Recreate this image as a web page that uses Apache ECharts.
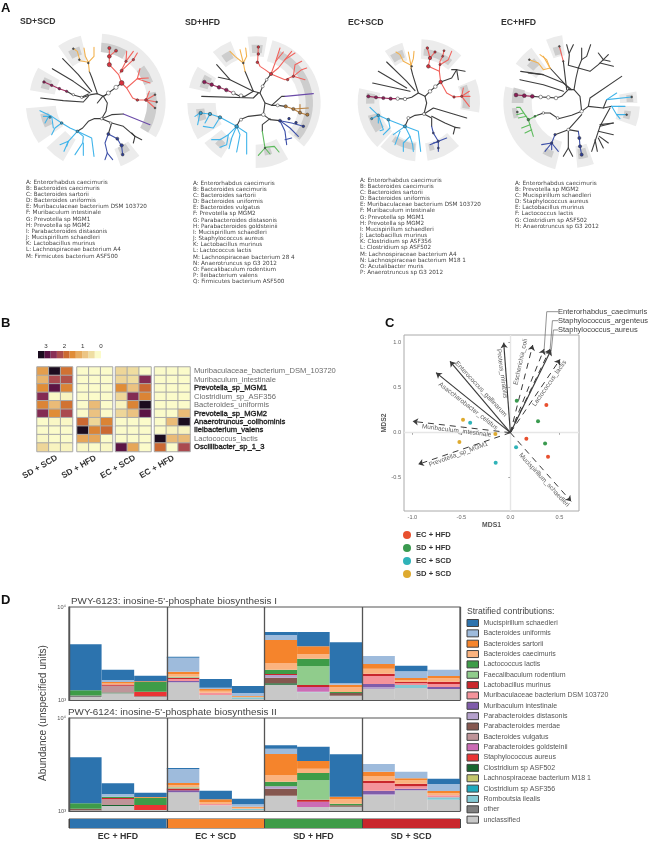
<!DOCTYPE html>
<html><head><meta charset="utf-8">
<style>html,body{margin:0;padding:0;background:#fff}#c{width:649px;height:841px}</style>
<script src="https://cdn.jsdelivr.net/npm/echarts@6/dist/echarts.min.js"></script>
</head><body><div id="c"></div>
<script>
// ---------- Panel A: species lists ----------
const LIST_SD_SCD=["A: Enterorhabdus caecimuris","B: Bacteroides caecimuris","C: Bacteroides sartorii","D: Bacteroides uniformis","E: Muribaculaceae bacterium DSM 103720","F: Muribaculum intestinale","G: Prevotella sp MGM1","H: Prevotella sp MGM2","I: Parabacteroides distasonis","J: Mucispirillum schaedleri","K: Lactobacillus murinus","L: Lachnospiraceae bacterium A4","M: Firmicutes bacterium ASF500"];
const LIST_SD_HFD=["A: Enterorhabdus caecimuris","B: Bacteroides caecimuris","C: Bacteroides sartorii","D: Bacteroides uniformis","E: Bacteroides vulgatus","F: Prevotella sp MGM2","G: Parabacteroides distasonis","H: Parabacteroides goldsteinii","I: Mucispirillum schaedleri","J: Staphylococcus aureus","K: Lactobacillus murinus","L: Lactococcus lactis","M: Lachnospiraceae bacterium 28 4","N: Anaerotruncus sp G3 2012","O: Faecalibaculum rodentium","P: Ileibacterium valens","Q: Firmicutes bacterium ASF500"];
const LIST_EC_SCD=["A: Enterorhabdus caecimuris","B: Bacteroides caecimuris","C: Bacteroides sartorii","D: Bacteroides uniformis","E: Muribaculaceae bacterium DSM 103720","F: Muribaculum intestinale","G: Prevotella sp MGM1","H: Prevotella sp MGM2","I: Mucispirillum schaedleri","J: Lactobacillus murinus","K: Clostridium sp ASF356","L: Clostridium sp ASF502","M: Lachnospiraceae bacterium A4","N: Lachnospiraceae bacterium M18 1","O: Acutalibacter muris","P: Anaerotruncus sp G3 2012"];
const LIST_EC_HFD=["A: Enterorhabdus caecimuris","B: Prevotella sp MGM2","C: Mucispirillum schaedleri","D: Staphylococcus aureus","E: Lactobacillus murinus","F: Lactococcus lactis","G: Clostridium sp ASF502","H: Anaerotruncus sp G3 2012"];

// ---------- Panel A: cladograms, in tree-local units ----------
const CLADE_COLORS={K:'#3d3d3d',O:'#f3b24f',R:'#f2625c',P:'#a32f60',B:'#40b4ea',N:'#3d50a8',V:'#6a4aa8',W:'#b9803e',G:'#5dbb5d'};
const NODE_COLORS={w:'#ffffff',r:'#d8323e',p:'#8e1b57',b:'#2f9fd0',n:'#2f3f96',o:'#a8853a',t:'#b07a3c',g:'#3f8f4a',k:'#555555'};

const SD_SCD_LIGHT=[[232,222,150,205,-31,86],[232,222,130,205,104,125],[232,222,130,205,150,170],[232,222,125,215,185,215],[232,222,130,205,222,240],[232,222,150,205,-70,-52]];
const SD_SCD_DARK=[[232,222,150,178,60,86],[232,222,150,178,20,38],[232,222,150,178,-31,10],[232,222,150,175,108,120],[232,222,150,175,155,166],[232,222,150,175,192,206],[232,222,150,175,-66,-56]];
const SD_SCD_BRANCHES=[
['K',262,198,250,205,262,225,258,250,245,272],['K',250,205,232,197,212,200,186,209],['K',248,205,232,225],['K',250,205,265,195,288,178,305,165],
['K',232,197,216,150,208,130],['O',208,130,205,103],['O',205,103,180,98,172,70,160,62],['O',205,103,222,85,222,58],['O',205,103,196,85,192,60],
['K',215,190,175,140,128,92],['K',210,195,160,160,97,122],['K',205,198,185,208,158,200,140,190],['P',140,190,118,182,95,172,72,162],['K',205,205,190,222,130,218,62,210],
['K',245,272,222,272,205,280,188,300,172,310],['B',172,310,150,300,125,285,95,265,60,248],['B',95,265,100,300],['B',88,262,75,285],['B',90,265,70,265],['B',125,285,105,300,95,320],
['B',172,310,145,340,120,350],['B',145,340,132,370],['B',145,340,140,355],['B',172,310,190,325,188,345,165,380],['B',190,345,190,382],['B',172,310,215,330,222,385],
['K',245,272,275,260,310,258],['V',310,258,390,290],['K',245,272,275,285,265,318],['N',265,318,255,345,262,375],['N',262,375,255,395],['N',262,375,278,395],['N',265,318,292,332,305,355,308,380],
['K',275,285,310,295,345,325,340,345],['K',345,325,365,335],['K',345,325,335,315],
['R',305,165,320,180,338,210,352,216,378,216,405,200],['R',378,216,410,222],['R',378,216,405,240],['R',378,216,388,190],['R',320,180,352,152,385,150],['R',352,152,360,122],['R',352,152,390,165],
['R',305,165,296,140,268,110,268,60],['R',268,85,288,68],['R',300,135,318,100,320,70],['R',305,128,340,95,352,75],['R',318,100,340,70]];
const SD_SCD_NODES=[[265,195,4,'w'],[288,178,4.2,'w'],[160,200,2.4,'w'],[185,208,2.4,'w'],[245,272,2.6,'w'],[272,285,2.4,'w'],
[305,165,4.8,'r'],[268,110,4.2,'r'],[268,85,3.8,'r'],[268,60,3.2,'r'],[288,68,3,'r'],[305,128,3,'r'],[318,100,2.4,'r'],[340,95,2.4,'r'],[352,216,2.6,'r'],[378,216,2.8,'r'],[405,200,1.8,'k'],[410,222,1.8,'k'],[405,240,1.8,'k'],
[140,190,2.4,'p'],[118,182,2.6,'p'],[95,172,2.6,'p'],[72,162,2.6,'p'],[172,310,2.6,'b'],[125,285,2.6,'b'],[90,268,2.2,'b'],[265,318,3,'n'],[292,332,3,'n'],[305,352,3.4,'n'],[308,380,2.8,'n'],[205,105,1.8,'k'],[178,95,1.8,'k'],[160,62,1.8,'k']];

const SD_HFD_LIGHT=[[212,225,130,195,-42,75],[212,225,140,200,80,97],[212,225,140,200,112,130],[212,225,140,205,148,167],[212,225,120,205,180,212],[212,225,130,195,218,238],[212,225,125,195,-90,-60]];
const SD_HFD_DARK=[[212,225,150,172,-40,65],[212,225,150,175,83,94],[212,225,150,175,116,126],[212,225,150,175,151,164],[212,225,155,180,186,198],[212,225,150,172,225,233],[212,225,140,160,-80,-72]];
const SD_HFD_BRANCHES=[
['K',235,260,240,225,225,195,205,190,180,205,165,205,145,195],['P',145,195,124,186,102,178,80,170,58,162],['K',50,205,205,210,220,195],
['K',205,190,135,155,95,110],['K',135,155,100,148],['K',205,190,180,130],['O',180,130,175,105,150,85,135,70],['O',175,105,165,65],['O',175,105,185,85,182,60],
['K',225,195,233,175,245,155,258,138],['R',258,138,240,125,225,115,218,100,220,55],['R',258,138,272,100,280,90,295,72],['R',272,100,285,60],['R',258,138,280,120,300,95,330,75],['R',300,95,320,70],['R',258,138,300,155,325,145,360,155],['R',325,145,330,110,350,100],['R',325,145,350,125,365,120],
['K',240,225,260,232,290,205,300,205],['V',300,205,385,197],['K',260,232,280,232,300,235],['W',300,235,325,243,345,254,370,262],['W',325,243,370,240],['W',345,254,345,230],
['K',235,260,255,275,285,278],['N',285,278,320,285,355,295],['N',285,278,315,300,340,325],['N',285,278,300,310,305,350],['N',300,335,320,330],['K',255,272,232,290,232,310],['G',232,310,240,360,220,382],['G',240,360,255,378],['G',240,358,268,355,282,372],
['K',235,260,190,265,165,275,155,295],['B',155,295,105,268,75,258,45,255,30,265],['B',75,258,60,285],['B',105,268,85,300,55,295],['B',45,255,38,290],['B',155,295,130,320,105,335,80,335],['B',130,320,125,350,105,358],['B',155,295,140,330,132,362],['B',155,295,185,315,185,378],['B',155,295,165,320,155,372]];
const SD_HFD_NODES=[[168,203,3.6,'w'],[145,195,3.6,'w'],[233,175,3,'w'],[245,155,2.6,'w'],[235,260,3.6,'w'],[278,232,3,'w'],[168,275,3,'w'],
[258,138,3.2,'r'],[217,103,2.6,'r'],[220,78,2.6,'r'],[220,57,2.6,'r'],[325,145,2.4,'r'],[308,155,2.4,'r'],[124,186,3.6,'p'],[102,178,3.6,'p'],[80,170,3.6,'p'],[58,162,3.6,'p'],
[302,235,3.2,'t'],[325,243,3.2,'t'],[345,254,3.2,'t'],[367,260,3.2,'t'],[285,278,3,'n'],[312,272,2.6,'n'],[333,284,2.6,'n'],[355,295,2.6,'n'],[155,295,3.6,'b'],[105,268,3.4,'b'],[75,258,3.4,'b'],[47,255,3.4,'b'],[175,105,1.8,'k'],[240,360,1.6,'k']];

const EC_SCD_LIGHT=[[208,222,130,188,48,88],[208,222,125,182,-10,22],[208,222,130,185,106,124],[208,222,120,185,167,227],[208,222,120,178,229,266],[208,222,125,178,-82,-48]];
const EC_SCD_DARK=[[208,222,140,160,52,85],[208,222,130,152,-8,20],[208,222,140,165,108,122],[208,222,135,160,170,182],[208,222,130,160,195,215],[208,222,125,145,235,265],[208,222,130,150,-78,-72]];
const EC_SCD_BRANCHES=[
['K',222,258,230,225,225,205,205,195,185,208,165,213,143,212],['P',143,212,122,212,100,210,78,208,55,205],['K',225,205,240,190,256,176,272,162],
['K',205,195,188,140,183,120],['O',183,120,183,112,160,100,150,80,138,72],['O',183,112,175,72],['O',183,112,190,92,192,70],
['K',195,188,170,160,110,102],['K',170,180,85,130],['K',180,190,68,165],
['K',222,258,195,262,175,272,165,295],['B',165,295,140,285,115,275,85,262,60,238],['B',85,262,65,272],['B',85,262,85,285],['B',85,262,100,305,90,308],['B',115,275,120,300,100,320],
['B',165,295,130,320],['B',165,295,205,310,212,370],['B',165,295,180,325,188,350,190,370],['B',180,325,160,345,160,370],['B',150,310,135,350],
['K',222,258,250,240,350,270],['K',222,258,245,270,245,295],['N',245,295,250,315,265,340,265,370],['N',265,340,240,350],['N',265,340,290,330],['N',265,342,250,345],
['K',245,265,285,285,315,298,310,318],['K',315,298,330,300],
['R',272,162,290,195,312,207,335,205,358,190],['R',335,205,360,205],['R',335,205,358,235],['R',335,205,340,180],
['R',272,162,268,130,235,115,240,90,232,60],['R',240,90,255,72],['R',268,130,270,100,278,85,282,68],['R',270,110,295,95,305,70],
['K',272,162,305,150,320,125],['K',320,125,345,130],['K',320,125,325,155],['K',320,125,305,125]];
const EC_SCD_NODES=[[240,190,3.6,'w'],[256,176,3.6,'w'],[143,212,3.4,'w'],[165,213,3.4,'w'],[222,258,3,'w'],[175,270,3,'w'],
[272,162,3.6,'r'],[235,115,3.6,'r'],[240,90,3.4,'r'],[232,60,2.6,'r'],[255,72,2.4,'r'],[312,207,2.4,'r'],[335,205,2.2,'r'],[278,85,2,'r'],[282,68,2,'r'],[270,110,2.2,'r'],[122,212,3.2,'p'],[100,210,3.2,'p'],[78,208,3.2,'p'],[55,205,3.2,'p'],
[165,295,3.2,'b'],[115,275,2.8,'b'],[85,262,2.8,'b'],[65,272,2.2,'b'],[250,315,2,'n'],[265,340,2,'n'],[265,360,2,'n'],[185,115,1.8,'k']];

const EC_HFD_LIGHT=[[215,225,145,205,98,112],[215,225,130,205,126,145],[215,225,120,205,166,256],[215,225,145,197,0,10],[215,225,140,205,-20,-3],[215,225,130,195,-85,-70]];
const EC_HFD_DARK=[[215,225,150,175,101,109],[215,225,150,175,130,140],[215,225,145,180,165,180],[215,225,165,180,185,195],[215,225,155,175,240,250],[215,225,165,185,1,8],[215,225,160,180,-16,-8],[215,225,140,170,-83,-73]];
const EC_HFD_BRANCHES=[
['K',245,250,240,205,222,185,205,185,185,205,168,210,145,208,122,207],['K',122,207,97,205],['P',97,205,73,203,48,201],
['K',222,185,228,150,235,120],['K',235,120,245,95,260,85,272,50],['K',245,95,245,60],['K',235,120,205,112,208,80,200,50],['K',208,75,220,50],['K',235,120,270,130,295,110,310,95,330,100],['K',310,95,295,75],['K',310,95,325,80],['K',300,105,340,115],
['K',215,185,190,165,130,140,62,130],['K',130,140,85,135],['K',190,190,130,170,60,155],['K',210,185,150,120],['O',150,120,130,125,115,105,88,95],['O',150,120,130,85],['O',150,120,140,95,120,80],
['K',200,185,190,100],['R',190,100,178,55],
['K',245,250,265,235,270,210,365,145],['K',265,235,310,240,335,235],['K',310,240,320,215],['B',320,215,395,207],['B',320,215,350,195],['B',335,235,375,235],['B',335,235,350,260,380,260],['B',350,260,360,272],
['K',330,240,300,295,290,325,275,370],['K',300,295,340,285],['K',295,310,340,320],['K',300,290,340,285],['K',285,335,292,370],['K',295,330,310,360],['K',298,325,325,345],
['K',245,250,215,262,175,272,150,255,130,255,112,262],['G',112,262,85,275,60,238,50,238],['G',85,275,100,325],['G',80,265,55,270],['G',90,290,65,300],['G',95,305,75,315],['G',70,255,50,260],
['K',245,260,205,305,165,320],['N',165,320,155,345,125,350],['N',155,345,135,370],['N',155,345,155,365],['N',155,345,175,370],['K',205,305,205,360],['K',205,360,190,385],['K',205,360,218,385],['K',205,305,235,310],['N',235,310,238,330,240,355,245,380]];
const EC_HFD_NODES=[[168,210,3.6,'w'],[145,208,3.6,'w'],[122,207,3.6,'w'],[245,250,3.4,'w'],[173,270,2.8,'w'],[130,255,2.6,'w'],[205,305,3,'w'],
[97,205,3.8,'p'],[73,203,3.8,'p'],[48,201,3.8,'p'],[85,275,2.6,'g'],[105,265,2,'g'],[52,252,2,'k'],[165,320,2.4,'n'],[155,345,2.4,'n'],[238,330,3.2,'n'],[240,355,3.2,'n'],[245,380,3.2,'n'],[178,55,1.8,'k'],[190,100,1.6,'k'],[88,95,1.8,'k'],[395,207,1.8,'k'],[380,260,1.8,'k']];

const TREE_LAYOUTS=[
 {box:[20,28,150,145],light:SD_SCD_LIGHT,dark:SD_SCD_DARK,branches:SD_SCD_BRANCHES,nodes:SD_SCD_NODES},
 {box:[185,28,150,145],light:SD_HFD_LIGHT,dark:SD_HFD_DARK,branches:SD_HFD_BRANCHES,nodes:SD_HFD_NODES},
 {box:[350,28,150,145],light:EC_SCD_LIGHT,dark:EC_SCD_DARK,branches:EC_SCD_BRANCHES,nodes:EC_SCD_NODES},
 {box:[500,28,149,145],light:EC_HFD_LIGHT,dark:EC_HFD_DARK,branches:EC_HFD_BRANCHES,nodes:EC_HFD_NODES}];

// ---------- Panel B ----------
const HEAT_ROWS=["Muribaculaceae_bacterium_DSM_103720","Muribaculum_intestinale","Prevotella_sp_MGM1","Clostridium_sp_ASF356","Bacteroides_uniformis","Prevotella_sp_MGM2","Anaerotruncus_colihominis","Ileibacterium_valens","Lactococcus_lactis","Oscillibacter_sp_1_3"];
const HEAT_BOLD=["Prevotella_sp_MGM1","Prevotella_sp_MGM2","Anaerotruncus_colihominis","Ileibacterium_valens","Oscillibacter_sp_1_3"];
const HEAT_COLORS=['#fbfbca','#efdea2','#ecc585','#e7ac60','#e08c36','#cc6a32','#ad4d4e','#8a2f56','#591243','#1b0c1f'];
const HEAT_GROUP_NAMES=["SD + SCD","SD + HFD","EC + SCD","EC + HFD"];
const HEAT_SD_SCD=[[1.3,3.4,1.8],[1.0,2.3,2.2],[1.5,3.0,1.6],[2.7,0.05,0.1],[1.6,0.9,1.8],[2.7,1.5,2.3],[0,0.05,0.05],[0,0,0],[0.05,0,0],[0.5,0.1,0.1]];
const HEAT_SD_HFD=[[0,0,0],[0,0,0],[0,0,0],[0,0,0],[0,0.9,0],[0,0.8,0],[1.9,0.5,1.6],[3.4,1.6,1.9],[1.2,1.2,0],[0.05,0,0.05]];
const HEAT_EC_SCD=[[0.5,0.4,0],[0.5,0.4,2.7],[1.5,0.8,1.9],[0.5,2.7,1.6],[0.1,1.6,3.4],[0.5,0.8,3.0],[0,0,0],[0,0,0],[0,0,0],[3.0,1.2,0]];
const HEAT_EC_HFD=[[0,0,0],[0,0,0],[0,0,0],[0,0,0],[0,0,0],[0,0,0.9],[0,0.9,3.4],[0,0.1,0.1],[3.4,0.9,0.9],[1.9,0,2.3]];
const HEAT_BLOCKS=[HEAT_SD_SCD,HEAT_SD_HFD,HEAT_EC_SCD,HEAT_EC_HFD];
const HEAT_LEFTS=[37,77,115.5,154.5];
const COLORBAR_STEP=[0.344];

// ---------- Panel C ----------
const EC_HFD_PTS=[[0.367,0.307],[0.163,-0.067],[0.384,-0.267]];
const SD_HFD_PTS=[[0.065,0.356],[0.282,0.126],[0.354,-0.119]];
const EC_SCD_PTS=[[-0.41,0.111],[0.058,-0.163],[-0.15,-0.333]];
const SD_SCD_PTS=[[-0.483,0.144],[-0.52,-0.104],[-0.153,-0.015]];
const MDS_GROUPS=[["EC + HFD",EC_HFD_PTS,'#e8502f'],["SD + HFD",SD_HFD_PTS,'#3a9a4f'],["EC + SCD",EC_SCD_PTS,'#2fb3b8'],["SD + SCD",SD_SCD_PTS,'#deaa2f']];
const ARROWS_SOLID=[[-0.068,1.0],[-0.758,0.667],[-0.616,0.793],[0.415,0.919]];
const ARROWS_DASHED=[[-0.997,0.126],[-0.94,-0.352],[0.62,-0.763],[0.228,0.974],[0.507,0.815],[0.344,0.93],[0.405,0.93]];
const ARROW_LABELS=[["Proteus_mirabilis",-0.085,0.656,-82],["Escherichia_coli",0.105,0.785,78],["Lactococcus_lactis",0.398,0.548,55],["Enterococcus_gallinarum",-0.30,0.485,-47],["Asaccharobacter_celatus",-0.43,0.296,-38],["Muribaculum_intestinale",-0.548,0.022,-7],["Prevotella_sp_MGM1",-0.53,-0.24,20],["Mucispirillum_schaedleri",0.344,-0.526,-47]];
const CALLOUT_LINES=[[[0.49,1.344],[0.371,1.344],[0.344,0.919]],[[0.49,1.244],[0.429,1.244],[0.405,0.919]],[[0.49,1.141],[0.439,1.141],[0.418,0.919]]];
const CALLOUT_LABELS=[["Enterorhabdus_caecimuris",312],["Staphylococcus_argenteus",321],["Staphylococcus_aureus",330]];

// ---------- Panel D ----------
const SPECIES=["Mucispirillum schaedleri","Bacteroides uniformis","Bacteroides sartorii","Bacteroides caecimuris","Lactococcus lactis","Faecalibaculum rodentium","Lactobacillus murinus","Muribaculaceae bacterium DSM 103720","Muribaculum intestinale","Parabacteroides distasonis","Parabacteroides merdae","Bacteroides vulgatus","Parabacteroides goldsteinii","Staphylococcus aureus","Clostridium sp ASF502","Lachnospiraceae bacterium M18 1","Clostridium sp ASF356","Romboutsia ilealis","other","unclassified"];
const SPECIES_COLORS=['#2c73ae','#9ebbdc','#f5842c','#fbb37f','#3e9c48','#90cc8c','#c9262c','#f4939b','#7f5caa','#b5a1cc','#85574f','#bf9499','#cc6cb5','#ea3434','#17652f','#c4c66c','#1fa9bd','#84c9d4','#7f7f7f','#c8c8c8'];
const [muc,unif,sart,caec,lact,faec,lmur,dsm,mint,dist,merd,vulg,gold,staph,a502,m181,a356,romb,othr,uncl]=SPECIES.map((_,i)=>i);
// each sample: [species, log10 abundance at the top of its band], bottom to top
const PWY6123=[
[[uncl,3.032],[othr,3.048],[lact,3.104],[muc,3.599]],
[[uncl,3.072],[a502,3.081],[vulg,3.154],[lmur,3.167],[caec,3.177],[sart,3.194],[unif,3.215],[muc,3.326]],
[[uncl,3.032],[othr,3.040],[staph,3.089],[lact,3.194],[sart,3.201],[muc,3.261]],
[[uncl,3.190],[faec,3.201],[mint,3.215],[dsm,3.237],[lmur,3.250],[caec,3.280],[sart,3.304],[unif,3.455],[muc,3.466]],
[[uncl,3.054],[dsm,3.078],[caec,3.100],[sart,3.118],[unif,3.132],[muc,3.226]],
[[uncl,3.011],[romb,3.029],[caec,3.035],[sart,3.043],[unif,3.075],[muc,3.151]],
[[uncl,3.164],[a502,3.180],[merd,3.240],[dist,3.269],[lmur,3.280],[lact,3.326],[caec,3.398],[sart,3.645],[unif,3.699],[muc,3.731]],
[[uncl,3.083],[romb,3.089],[gold,3.140],[lmur,3.161],[faec,3.366],[lact,3.444],[caec,3.491],[sart,3.577],[muc,3.731]],
[[uncl,3.046],[merd,3.075],[lact,3.086],[caec,3.137],[sart,3.164],[unif,3.180],[muc,3.620]],
[[uncl,3.118],[dist,3.137],[mint,3.172],[dsm,3.258],[lmur,3.283],[caec,3.336],[sart,3.387],[unif,3.473]],
[[uncl,3.129],[romb,3.161],[dsm,3.180],[lmur,3.194],[caec,3.215],[sart,3.237],[unif,3.309],[muc,3.369]],
[[uncl,3.118],[mint,3.140],[dsm,3.172],[lmur,3.197],[caec,3.233],[sart,3.258],[unif,3.326]]];
const PWY6124=[
[[uncl,3.008],[merd,3.025],[lact,3.083],[muc,3.577]],
[[uncl,3.054],[a502,3.065],[vulg,3.126],[lmur,3.140],[lact,3.154],[unif,3.183],[muc,3.298]],
[[uncl,3.011],[staph,3.065],[lact,3.143],[sart,3.151],[muc,3.197]],
[[uncl,3.201],[faec,3.215],[mint,3.237],[lmur,3.255],[caec,3.280],[sart,3.301],[unif,3.452],[muc,3.462]],
[[uncl,3.061],[dsm,3.075],[caec,3.097],[sart,3.126],[muc,3.218]],
[[uncl,3.011],[romb,3.025],[caec,3.035],[sart,3.046],[unif,3.072],[muc,3.132]],
[[uncl,3.164],[merd,3.240],[dist,3.266],[lact,3.315],[caec,3.387],[sart,3.613],[unif,3.670],[muc,3.706]],
[[uncl,3.043],[gold,3.100],[lmur,3.121],[faec,3.330],[lact,3.409],[caec,3.455],[sart,3.538],[muc,3.691]],
[[uncl,3.046],[merd,3.061],[lact,3.078],[caec,3.129],[sart,3.154],[muc,3.610]],
[[uncl,3.169],[dist,3.180],[mint,3.218],[dsm,3.301],[lmur,3.326],[caec,3.376],[sart,3.422],[unif,3.505]],
[[uncl,3.223],[mint,3.240],[dsm,3.266],[lmur,3.293],[caec,3.330],[sart,3.352],[unif,3.422]],
[[uncl,3.121],[romb,3.147],[dsm,3.169],[caec,3.190],[sart,3.215],[unif,3.290],[muc,3.347]]];
const STRIP_GROUPS=["EC + HFD","EC + SCD","SD + HFD","SD + SCD"];
const STRIP_COLORS=['#2c73ae','#f5842c','#3e9c48','#c9262c'];
const STRIP_VALUES=[1,1,1,1];

// ---------- build ----------
const grids=[],xAxes=[],yAxes=[],series=[],graphics=[];
const SANS='"Liberation Sans",Arial,sans-serif';
const hiddenAxis=(o)=>Object.assign({show:false},o);
function addGrid(g,x,y){grids.push(g);x.gridIndex=grids.length-1;y.gridIndex=grids.length-1;xAxes.push(x);yAxes.push(y);return grids.length-1;}
function text(t,x,y,font,fill,extra){graphics.push(Object.assign({type:'text',silent:true,x:x,y:y,style:Object.assign({text:t,font:font,fill:fill,verticalAlign:'middle'},extra&&extra.style||{})},extra&&extra.el||{}));}

// trees
TREE_LAYOUTS.forEach(t=>{
 const idx=addGrid({left:t.box[0],top:t.box[1],width:t.box[2],height:t.box[3]},
  hiddenAxis({type:'value',min:0,max:t.box[2]*3}),hiddenAxis({type:'value',min:0,max:t.box[3]*3,inverse:true}));
 const sect=(rows,color,z)=>series.push({type:'custom',xAxisIndex:idx,yAxisIndex:idx,z:z,silent:true,clip:false,data:rows,
  renderItem:(p,api)=>{const c=api.coord([api.value(0),api.value(1)]);const s=api.size([1,1])[0];
   return {type:'sector',shape:{cx:c[0],cy:c[1],r0:api.value(2)*s,r:api.value(3)*s,startAngle:-api.value(5)*Math.PI/180,endAngle:-api.value(4)*Math.PI/180,clockwise:true},style:{fill:color}};}});
 sect(t.light,'#ececec',1);sect(t.dark,'#cdcdcd',1);
 series.push({type:'lines',coordinateSystem:'cartesian2d',polyline:true,xAxisIndex:idx,yAxisIndex:idx,z:3,silent:true,
  data:t.branches.map(b=>{const c=[];for(let i=1;i<b.length;i+=2)c.push([b[i],b[i+1]]);return {coords:c,lineStyle:{color:CLADE_COLORS[b[0]],width:1.1,opacity:1,cap:'round',join:'round'}};})});
 series.push({type:'scatter',xAxisIndex:idx,yAxisIndex:idx,z:4,silent:true,
  data:t.nodes.map(n=>({value:[n[0],n[1]],symbolSize:n[2],itemStyle:{color:NODE_COLORS[n[3]],borderColor:'#333',borderWidth:0.5,opacity:1}}))});
});
[[LIST_SD_SCD,26,182],[LIST_SD_HFD,193,183],[LIST_EC_SCD,360,180],[LIST_EC_HFD,515,183]].forEach(l=>{
 graphics.push({type:'text',silent:true,x:l[1],y:l[2]-3,style:{text:l[0].join('\n'),font:'5.68px "DejaVu Sans"',fill:'#444',lineHeight:6.17}});
});
[["SD+SCD",20,22],["SD+HFD",185,23],["EC+SCD",348,23],["EC+HFD",501,23]].forEach(t=>text(t[0],t[1],t[2],'bold 8.7px "Liberation Sans"','#333'));
[["A",1,8],["B",1,323],["C",385,323],["D",1,600]].forEach(t=>text(t[0],t[1],t[2],'bold 13px "Liberation Sans"','#111'));

// heatmap
const heatSeries=[];
HEAT_BLOCKS.forEach((block,b)=>{
 const last=b===3;
 const idx=addGrid({left:HEAT_LEFTS[b],top:367,width:35.5,height:84.5},
  {type:'category',data:['1','2','3'],show:false},
  {type:'category',inverse:true,position:'right',data:HEAT_ROWS.map(r=>{const on=HEAT_BOLD.includes(r);return {value:r,textStyle:on?{color:'#222',textBorderColor:'#222',textBorderWidth:0.35}:{color:'#6a6a6a'}};}),
   show:last,axisLine:{show:false},axisTick:{show:false},splitLine:{show:false},axisLabel:{show:last,interval:0,margin:4,fontSize:7.6,fontFamily:SANS}});
 const d=[];block.forEach((row,r)=>row.forEach((v,c)=>d.push([c,r,v])));
 heatSeries.push(series.length);
 series.push({type:'heatmap',xAxisIndex:idx,yAxisIndex:idx,data:d,silent:true,itemStyle:{borderColor:'#a9a9a9',borderWidth:1}});
 text(HEAT_GROUP_NAMES[b],[40,79,118,157][b],467,'bold 8.4px "Liberation Sans"','#333',{style:{align:'center'},el:{rotation:Math.PI/6}});
});
// colour bar
{const idx=addGrid({left:38,top:351,width:63,height:7.3},
  {type:'value',inverse:true,min:0,max:3.44,interval:1,position:'top',axisLine:{show:false},axisTick:{show:false},splitLine:{show:false},
   axisLabel:{margin:2,fontSize:6.2,color:'#333',fontFamily:SANS,formatter:v=>Number.isInteger(v)?String(v):''}},
  {type:'category',data:['scale'],show:false});
 HEAT_COLORS.forEach(c=>series.push({type:'bar',stack:'scale',barWidth:'100%',silent:true,xAxisIndex:idx,yAxisIndex:idx,data:[COLORBAR_STEP[0]],itemStyle:{color:c}}));
}

// MDS
const mdsAxisCommon={axisLine:{show:false},splitLine:{show:false},nameTextStyle:{fontSize:6.8,color:'#555',fontFamily:SANS,fontWeight:'bold'}};
const mdsIdx=addGrid({left:404,top:335,width:175,height:176,show:true,borderColor:'#aaa',borderWidth:1},
 Object.assign({},mdsAxisCommon,{type:'value',min:-1.085,max:0.70,name:'MDS1',nameLocation:'middle',nameGap:11,
  axisTick:{show:true,length:2,customValues:[-1,-0.5,0,0.5],lineStyle:{color:'#999'}},
  axisLabel:{customValues:[-1,-0.5,0,0.5],formatter:v=>v.toFixed(1),fontSize:5.6,color:'#666',margin:3,fontFamily:SANS}}),
 Object.assign({},mdsAxisCommon,{type:'value',min:-0.87,max:1.085,name:'MDS2',nameLocation:'middle',nameGap:12,
  axisTick:{show:true,length:2,customValues:[-0.5,0,0.5,1],lineStyle:{color:'#999'}},
  axisLabel:{customValues:[-0.5,0,0.5,1],formatter:v=>v.toFixed(1),fontSize:5.6,color:'#666',margin:3,fontFamily:SANS}}));
const mdsBase={xAxisIndex:mdsIdx,yAxisIndex:mdsIdx,silent:true};
series.push(Object.assign({},mdsBase,{type:'lines',coordinateSystem:'cartesian2d',z:1,lineStyle:{color:'#e6e6e6',width:1.4,opacity:1},
 data:[{coords:[[-1.085,0],[0.7,0]]},{coords:[[0,-0.87],[0,1.085]]}]}));
series.push(Object.assign({},mdsBase,{type:'lines',coordinateSystem:'cartesian2d',z:3,symbol:['none','arrow'],symbolSize:[0,5.5],lineStyle:{color:'#3a3a3a',width:1.15,opacity:1},
 data:ARROWS_SOLID.map(p=>({coords:[[0,0],p]}))}));
series.push(Object.assign({},mdsBase,{type:'lines',coordinateSystem:'cartesian2d',z:3,symbol:['none','arrow'],symbolSize:[0,5.5],lineStyle:{color:'#3a3a3a',width:1,opacity:1,type:[6,5]},
 data:ARROWS_DASHED.map(p=>({coords:[[0,0],p]}))}));
series.push(Object.assign({},mdsBase,{type:'lines',coordinateSystem:'cartesian2d',polyline:true,clip:false,z:3,lineStyle:{color:'#666',width:0.7,opacity:1},
 data:CALLOUT_LINES.map(c=>({coords:c}))}));
series.push(Object.assign({},mdsBase,{type:'scatter',z:4,symbolSize:0.5,itemStyle:{color:'transparent'},
 data:ARROW_LABELS.map(a=>({value:[a[1],a[2]],label:{show:true,position:'inside',formatter:a[0],rotate:a[3],fontSize:6.5,color:'#333',fontFamily:SANS,align:'center',verticalAlign:'middle'}}))}));
MDS_GROUPS.forEach(g=>series.push(Object.assign({},mdsBase,{type:'scatter',name:g[0],z:5,symbolSize:4,itemStyle:{color:g[2],opacity:1},data:g[1]})));
CALLOUT_LABELS.forEach(c=>text(c[0],558,c[1],'7.5px "Liberation Sans"','#444'));

// stacked abundance
const sampleNames=Array.from({length:12},(_,i)=>'s'+(i+1));
function addAbundance(top,height,samples,stackName,title,titleX,titleY){
 const idx=addGrid({left:69,top:top,width:391,height:height,show:true,borderColor:'#555',borderWidth:1.2,backgroundColor:'#fff'},
  {type:'category',data:sampleNames,z:6,axisLabel:{show:false},axisTick:{show:false},axisLine:{show:true,lineStyle:{color:'#555',width:1.2}},splitLine:{show:true,interval:2,lineStyle:{color:'#555',width:1.3}}},
  {type:'log',logBase:10,min:1000,max:10000,z:6,axisLine:{show:true,lineStyle:{color:'#555',width:1.2}},axisTick:{show:false},splitLine:{show:false},
   axisLabel:{fontSize:5.6,color:'#555',margin:3,fontFamily:SANS,formatter:v=>Math.round(v)===1000?'10³':(Math.round(v)===10000?'10⁴':'')}});
 for(let s=SPECIES.length-1;s>=0;s--){
  series.push({type:'bar',name:SPECIES[s],stack:stackName,silent:true,barWidth:'100%',xAxisIndex:idx,yAxisIndex:idx,itemStyle:{color:SPECIES_COLORS[s]},
   data:samples.map(list=>{const i=list.findIndex(e=>e[0]===s);if(i<0)return null;
    const t=Math.pow(10,list[i][1]);return i===0?t:t-Math.pow(10,list[i-1][1]);})});
 }
 text(title,titleX,titleY,'9.87px "Liberation Sans"','#444');
}
addAbundance(607,93,PWY6123,'p1',"PWY-6123: inosine-5'-phosphate biosynthesis I",71,601);
addAbundance(718,93,PWY6124,'p2',"PWY-6124: inosine-5'-phosphate biosynthesis II",68,712);
{const idx=addGrid({left:69,top:819,width:391,height:9,show:true,borderColor:'#444',borderWidth:1},
 {type:'category',data:STRIP_GROUPS,z:6,axisLine:{show:false},axisTick:{show:false},splitLine:{show:true,lineStyle:{color:'#444',width:1}},axisLabel:{margin:4,fontSize:8.8,fontWeight:'bold',color:'#333',fontFamily:SANS}},
 {type:'value',min:0,max:1,show:false});
 series.push({type:'bar',silent:true,barWidth:'100%',xAxisIndex:idx,yAxisIndex:idx,data:STRIP_VALUES.map((v,i)=>({value:v,itemStyle:{color:STRIP_COLORS[i]}}))});
}
text("Stratified contributions:",467,612,'8.6px "Liberation Sans"','#444');
graphics.push({type:'text',silent:true,x:43,y:713,rotation:Math.PI/2,style:{text:"Abundance (unspecified units)",font:'10.1px "Liberation Sans"',fill:'#444',align:'center',verticalAlign:'middle'}});

const chart=echarts.init(document.getElementById('c'),null,{renderer:'canvas'});
chart.setOption({animation:false,backgroundColor:'#fff',textStyle:{fontFamily:SANS},
 grid:grids,xAxis:xAxes,yAxis:yAxes,series:series,graphic:{elements:graphics},
 visualMap:[{type:'continuous',show:false,min:0,max:3.4,dimension:2,seriesIndex:heatSeries,inRange:{color:HEAT_COLORS}}],
 legend:[
  {orient:'vertical',left:466.5,top:619,padding:0,itemWidth:11.5,itemHeight:7,itemGap:2.35,selectedMode:false,data:SPECIES.map(n=>({name:n,icon:'rect',itemStyle:{borderColor:'#444',borderWidth:1}})),textStyle:{fontSize:7,lineHeight:7,color:'#555',fontFamily:SANS}},
  {orient:'vertical',left:403,top:531,padding:0,itemWidth:8,itemHeight:8,itemGap:5,selectedMode:false,icon:'circle',data:MDS_GROUPS.map(g=>g[0]),textStyle:{fontSize:7.6,fontWeight:'bold',color:'#333',fontFamily:SANS}}
 ]});
</script></body></html>
